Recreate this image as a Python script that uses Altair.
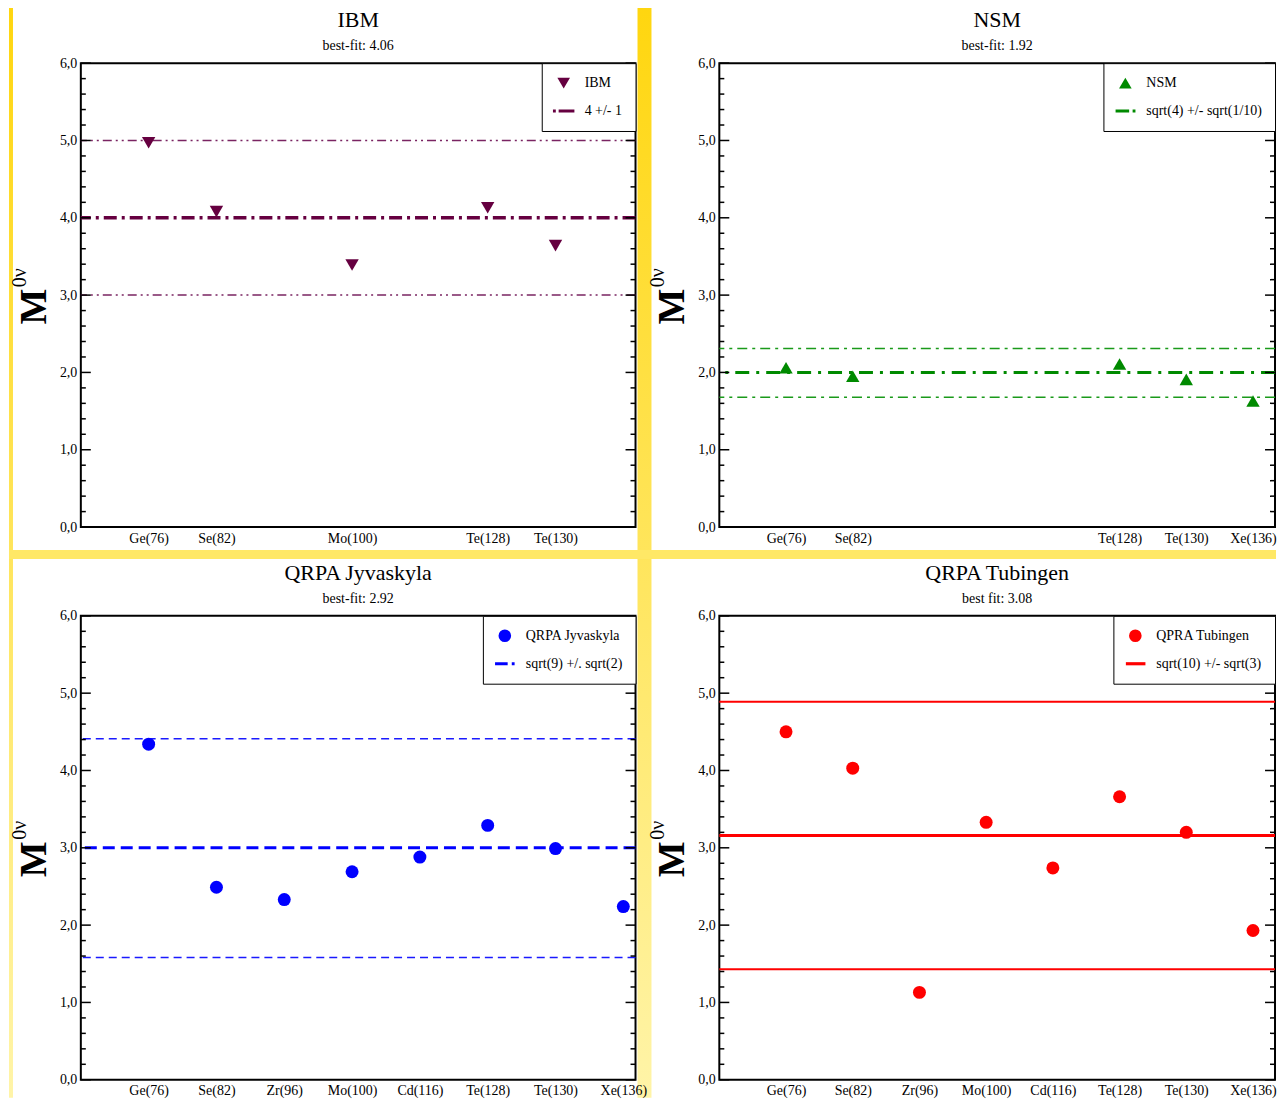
import altair as alt
import pandas as pd

# ---------------- data ----------------
categories = ["Ge(76)", "Se(82)", "Zr(96)", "Mo(100)", "Cd(116)", "Te(128)", "Te(130)", "Xe(136)"]

ibm_isotopes = ["Ge(76)", "Se(82)", "Mo(100)", "Te(128)", "Te(130)"]
ibm_values = [4.97, 4.08, 3.39, 4.13, 3.64]
ibm_center = [4.0]
ibm_bounds = [5.0, 3.0]

nsm_isotopes = ["Ge(76)", "Se(82)", "Te(128)", "Te(130)", "Xe(136)"]
nsm_values = [2.06, 1.95, 2.11, 1.91, 1.63]
nsm_center = [2.0]
nsm_bounds = [2.31, 1.68]

jyv_isotopes = ["Ge(76)", "Se(82)", "Zr(96)", "Mo(100)", "Cd(116)", "Te(128)", "Te(130)", "Xe(136)"]
jyv_values = [4.34, 2.49, 2.33, 2.69, 2.88, 3.29, 2.99, 2.24]
jyv_center = [3.0]
jyv_bounds = [4.41, 1.58]

tub_isotopes = ["Ge(76)", "Se(82)", "Zr(96)", "Mo(100)", "Cd(116)", "Te(128)", "Te(130)", "Xe(136)"]
tub_values = [4.50, 4.03, 1.13, 3.33, 2.74, 3.66, 3.20, 1.93]
tub_center = [3.16]
tub_bounds = [4.89, 1.43]

titles = ["IBM", "NSM", "QRPA Jyvaskyla", "QRPA Tubingen"]
subtitles = ["best-fit: 4.06", "best-fit: 1.92", "best-fit: 2.92", "best fit: 3.08"]
point_labels = ["IBM", "NSM", "QRPA Jyvaskyla", "QPRA Tubingen"]
line_labels = ["4 +/- 1", "sqrt(4) +/- sqrt(1/10)", "sqrt(9) +/. sqrt(2)", "sqrt(10) +/- sqrt(3)"]

y_major = [0, 1, 2, 3, 4, 5, 6]
y_minor = [0.2, 0.4, 0.6, 0.8, 1.2, 1.4, 1.6, 1.8, 2.2, 2.4, 2.6, 2.8,
           3.2, 3.4, 3.6, 3.8, 4.2, 4.4, 4.6, 4.8, 5.2, 5.4, 5.6, 5.8]

# ---------------- styling ----------------
SERIF = "Liberation Serif"
H = 465


def rect_path(segs, t=0.25):
    parts = []
    for a, b in segs:
        parts.append(f"M{a},{-t}L{b},{-t}L{b},{t}L{a},{t}Z")
    return " ".join(parts)


label_expr = "[" + ",".join(f"'{c}'" for c in categories) + "][datum.value - 1]"


def panel(i, isotopes, values, center, bounds, color, band_color, shape, size,
          center_dash, band_dash, center_w, band_w, legend_path, width, x_max, decor=False):
    pos = [categories.index(c) + 1 for c in isotopes]
    pts = pd.DataFrame({"pos": pos, "val": values, "series": [point_labels[i]] * len(pos)})

    yscale = alt.Scale(domain=[0, 6], nice=False, zero=False)
    yaxis = alt.Axis(values=y_major, labelExpr="replace(format(datum.value, '.1f'), '.', ',')",
                     title=None, ticks=False, tickSize=0, domain=False, grid=False,
                     labelFont=SERIF, labelFontSize=14, labelColor="black", labelPadding=4)
    xaxis = alt.Axis(values=pos, labelExpr=label_expr, title=None, ticks=False, tickSize=0,
                     domain=False, grid=False, labelFont=SERIF, labelFontSize=14,
                     labelColor="black", labelPadding=4, labelOverlap=False)

    cdash = {} if center_dash is None else {"strokeDash": center_dash}
    bdash = {} if band_dash is None else {"strokeDash": band_dash}

    center_rule = alt.Chart(pd.DataFrame({"val": center})).mark_rule(
        color=color, strokeWidth=center_w, **cdash
    ).encode(y=alt.Y("val:Q", scale=yscale, axis=yaxis))

    band_rule = alt.Chart(pd.DataFrame({"val": bounds})).mark_rule(
        color=band_color, strokeWidth=band_w, **bdash
    ).encode(y=alt.Y("val:Q", scale=yscale, axis=yaxis))

    points = alt.Chart(pts).mark_point(
        filled=True, size=size, opacity=1, color=color, strokeWidth=0
    ).encode(
        x=alt.X("pos:Q", scale=alt.Scale(domain=[0, x_max], nice=False, zero=False), axis=xaxis),
        y=alt.Y("val:Q", scale=yscale, axis=yaxis),
        shape=alt.Shape(
            "series:N",
            scale=alt.Scale(domain=[point_labels[i], line_labels[i]], range=[shape, legend_path]),
            legend=alt.Legend(
                title=None, orient="top-right", offset=0, padding=13,
                fillColor="white", strokeColor="black", cornerRadius=0,
                labelFont=SERIF, labelFontSize=14, labelColor="black",
                symbolSize=160, symbolFillColor=color, symbolStrokeColor=color,
                symbolStrokeWidth=0, symbolOpacity=1, symbolOffset=2,
                labelOffset=14, rowPadding=14, labelLimit=300,
            ),
        ),
    )

    major = pd.DataFrame({"v": y_major})
    minor = pd.DataFrame({"v": y_minor})
    tick_layers = []
    for df, ln in ((major, 10), (minor, 5)):
        tick_layers.append(
            alt.Chart(df).mark_rule(color="black", strokeWidth=1.5).encode(
                y=alt.Y("v:Q", scale=yscale, axis=yaxis), x=alt.value(0), x2=alt.value(ln)))
        tick_layers.append(
            alt.Chart(df).mark_rule(color="black", strokeWidth=1.5).encode(
                y=alt.Y("v:Q", scale=yscale, axis=yaxis), x=alt.value(width - ln), x2=alt.value(width)))

    one = pd.DataFrame({"a": [0]})
    m_title = alt.Chart(one).mark_text(
        text="M", font=SERIF, fontSize=38, fontWeight="bold", angle=270,
        align="center", baseline="middle", color="black"
    ).encode(x=alt.value(-46), y=alt.value(244))
    m_sup = alt.Chart(one).mark_text(
        text="0ν", font=SERIF, fontSize=20, angle=270,
        align="center", baseline="middle", color="black"
    ).encode(x=alt.value(-61), y=alt.value(215))
    title_txt = alt.Chart(one).mark_text(
        text=titles[i], font=SERIF, fontSize=22, align="center", baseline="alphabetic", color="black"
    ).encode(x=alt.value(width / 2), y=alt.value(-36))
    sub_txt = alt.Chart(one).mark_text(
        text=subtitles[i], font=SERIF, fontSize=14, align="center", baseline="alphabetic", color="black"
    ).encode(x=alt.value(width / 2), y=alt.value(-13))

    layers = []
    if decor:
        grad = alt.Gradient(
            gradient="linear",
            stops=[alt.GradientStop(color="#FFD60F", offset=0),
                   alt.GradientStop(color="#FFF4A8", offset=1)],
            x1=0, x2=0, y1=0, y2=1)
        left_strip = alt.Chart(one).mark_rect(fill=grad).encode(
            x=alt.value(-72), x2=alt.value(-68), y=alt.value(-56), y2=alt.value(1037))
        gap_col = alt.Chart(one).mark_rect(fill=grad).encode(
            x=alt.value(558), x2=alt.value(572), y=alt.value(-56), y2=alt.value(1037))
        gap_row = alt.Chart(one).mark_rect(fill="#FFE866").encode(
            x=alt.value(-72), x2=alt.value(1198), y=alt.value(488), y2=alt.value(497))
        layers += [left_strip, gap_col, gap_row]

    layers += [band_rule, center_rule] + tick_layers + [points, m_title, m_sup, title_txt, sub_txt]

    return alt.layer(*layers).properties(width=width, height=H)


p1 = panel(0, ibm_isotopes, ibm_values, ibm_center, ibm_bounds, "#660040", "#7A2462",
           "triangle-down", 180, [13, 5, 3, 5], [9, 4, 2, 4, 2, 4], 3.5, 1.5,
           rect_path([(-1.7, -1.25), (-0.8, 1.7)]), 556, 8.18, decor=True)
p2 = panel(1, nsm_isotopes, nsm_values, nsm_center, nsm_bounds, "#008A00", "#1A9A1A",
           "triangle-up", 180, [14, 7, 3, 7], [10, 5, 3, 5], 3, 1.5,
           rect_path([(-1.55, 0.6), (1.15, 1.6)]), 557, 8.33)
p3 = panel(2, jyv_isotopes, jyv_values, jyv_center, jyv_bounds, "#0000FF", "#1A1AFF",
           "circle", 169, [12, 6], [8, 5], 3, 1.5,
           rect_path([(-1.55, 0.45), (1.1, 1.55)]), 556, 8.18)
p4 = panel(3, tub_isotopes, tub_values, tub_center, tub_bounds, "#FF0000", "#FF0000",
           "circle", 169, None, None, 3, 2,
           rect_path([(-1.5, 1.6)]), 557, 8.33)

chart = alt.concat(
    p1, p2, p3, p4, columns=2, spacing={"row": 89, "column": 84}, bounds="flush"
).resolve_scale(
    shape="independent", x="independent", y="independent"
).resolve_legend(
    shape="independent"
).configure(
    background="white", padding={"top": -3, "left": 0, "right": 0, "bottom": 0}
).configure_view(
    stroke="black", strokeWidth=2, fill="white"
).configure_axis(zindex=1)

chart.save("out.html", embed_options={"renderer": "svg", "actions": False})
